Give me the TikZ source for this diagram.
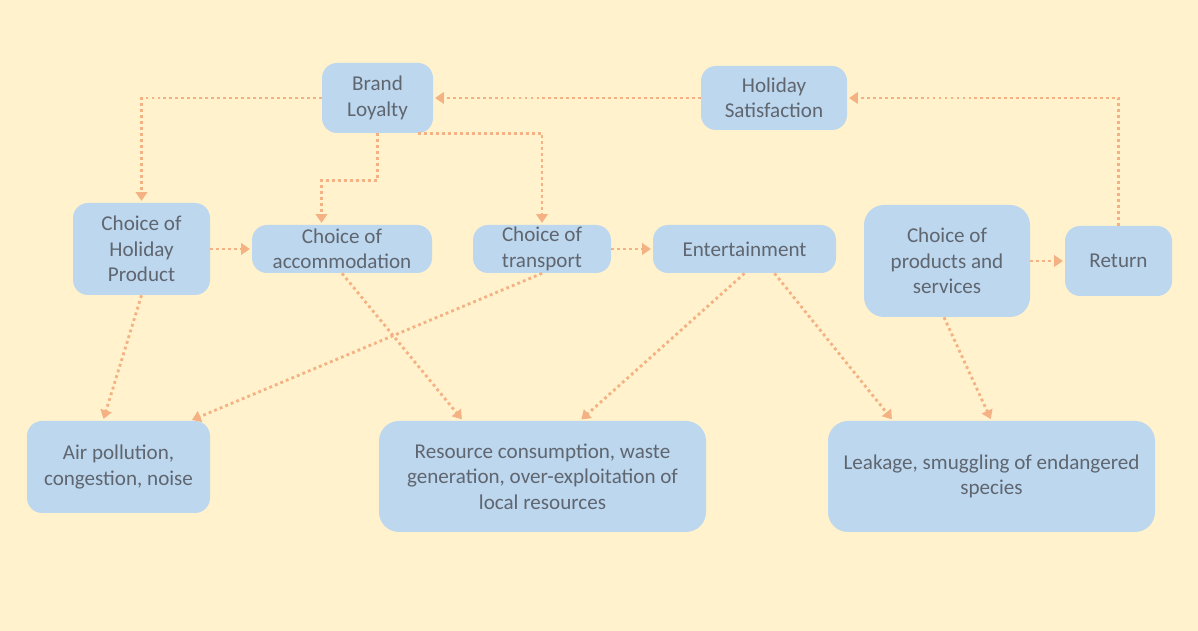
\documentclass[tikz,border=0pt]{standalone}
\usepackage{fontspec}
\setmainfont{Carlito}
\usetikzlibrary{arrows.meta}

\definecolor{paper}{HTML}{FFF2CC}
\definecolor{boxblue}{HTML}{BDD7EE}
\definecolor{linkorange}{HTML}{F4B183}
\definecolor{inkgray}{HTML}{5F6670}

\begin{document}
\begin{tikzpicture}[
	box/.style = {fill = boxblue,
				  rounded corners = 0.3cm,
				  text = inkgray,
				  align = center,
				  inner sep = 0pt,
				  font = \fontsize{12}{14.5}\selectfont},
	link/.style = {linkorange,
				   line width = 1.6pt,
				   dash pattern = on 1.6pt off 1.8pt,
				   -{Triangle[width = 6.5pt, length = 5pt]},
				   shorten >= 1pt}
	]

	\fill[paper] (0,0) rectangle (23.96,12.62);

	\draw (7.55,10.66) node[box,
					 minimum width = 2.22cm,
					 minimum height = 1.40cm] (brand) {Brand\\Loyalty};

	\draw (15.48,10.66) node[box,
					 minimum width = 2.92cm,
					 minimum height = 1.28cm] (satisf) {Holiday\\Satisfaction};

	\draw (2.83,7.64) node[box,
					 minimum width = 2.74cm,
					 minimum height = 1.84cm] (holprod) {Choice of\\Holiday\\Product};

	\draw (6.84,7.64) node[box,
					 minimum width = 3.60cm,
					 minimum height = 0.96cm] (accom) {Choice of\\accommodation};

	\draw (10.84,7.64) node[box,
					 minimum width = 2.76cm,
					 minimum height = 0.96cm] (transp) {Choice of\\transport};

	\draw (14.89,7.64) node[box,
					 minimum width = 3.66cm,
					 minimum height = 0.96cm] (entert) {Entertainment};

	\draw (18.94,7.40) node[box,
					 rounded corners = 0.4cm,
					 minimum width = 3.32cm,
					 minimum height = 2.24cm] (prodserv) {Choice of\\products and\\services};

	\draw (22.37,7.40) node[box,
					 minimum width = 2.14cm,
					 minimum height = 1.40cm] (ret) {Return};

	\draw (2.37,3.28) node[box,
					 minimum width = 3.66cm,
					 minimum height = 1.84cm] (air) {Air pollution,\\congestion, noise};

	\draw (10.85,3.09) node[box,
					 rounded corners = 0.4cm,
					 minimum width = 6.54cm,
					 minimum height = 2.22cm] (resource) {Resource consumption, waste\\generation, over-exploitation of\\local resources};

	\draw (19.83,3.09) node[box,
					 rounded corners = 0.4cm,
					 minimum width = 6.54cm,
					 minimum height = 2.22cm] (leak) {Leakage, smuggling of endangered\\species};

	% loop at the top
	\draw[link] (satisf.west) -- (brand.east);
	\draw[link] (brand.west) -| (holprod.north);
	\draw[link] (brand.south) -- ++(0,-0.94) -| ([xshift = -0.41cm]accom.north);
	\draw[link] ([xshift = -0.3cm]brand.south east) -| (transp.north);
	\draw[link] (ret.north) |- (satisf.east);

	% along the middle row
	\draw[link] (holprod.east) -- (accom.west);
	\draw[link] (transp.east) -- (entert.west);
	\draw[link] (prodserv.east) -- (ret.west);

	% down to the impacts
	\draw[link] (holprod.south) -- ([xshift = -0.31cm]air.north);
	\draw[link] (transp.south) -- ([xshift = -0.4cm]air.north east);
	\draw[link] (accom.south) -- ([xshift = -1.59cm]resource.north);
	\draw[link] (entert.south) -- ([xshift = 0.75cm]resource.north);
	\draw[link] ([xshift = 0.6cm]entert.south) -- ([xshift = -1.97cm]leak.north);
	\draw[link] ([xshift = -0.06cm]prodserv.south) -- (leak.north);
\end{tikzpicture}
\end{document}
